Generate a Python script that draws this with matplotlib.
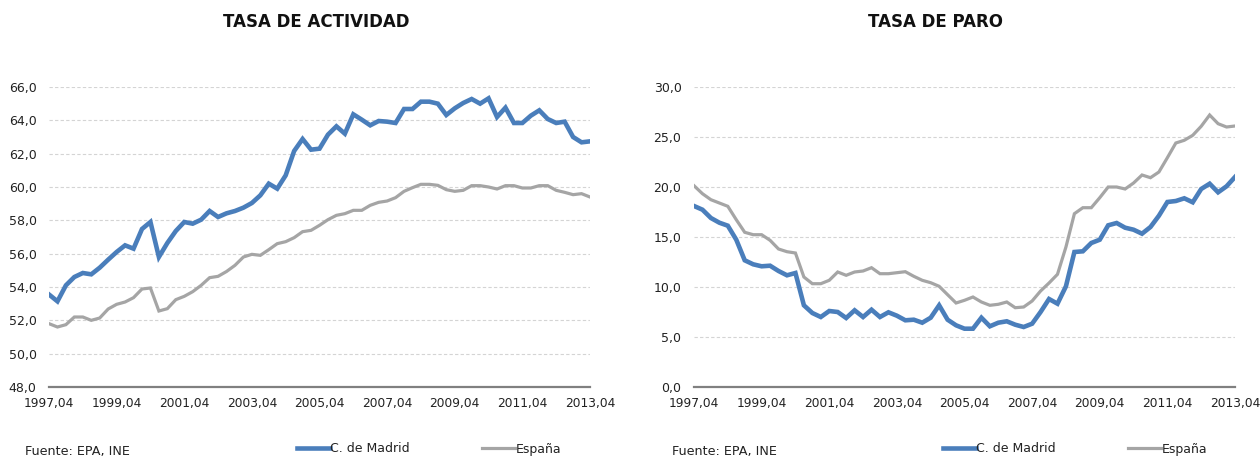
import matplotlib
matplotlib.use("Agg")
import matplotlib.pyplot as plt
from matplotlib.lines import Line2D
import numpy as np

plt.rcParams['font.family'] = ['DejaVu Sans']

# Quarterly series, 1997 Q4 .. 2013 Q4 (65 points)
tick_labels = ["1997,04", "1999,04", "2001,04", "2003,04", "2005,04",
               "2007,04", "2009,04", "2011,04", "2013,04"]

actividad_madrid = [
    53.55, 53.14, 54.1, 54.6, 54.84, 54.76, 55.16, 55.64, 56.1, 56.5,
    56.3, 57.48, 57.9, 55.8, 56.64, 57.36, 57.9, 57.8, 58.04, 58.56,
    58.2, 58.42, 58.56, 58.76, 59.04, 59.5, 60.2, 59.9, 60.7, 62.16,
    62.88, 62.24, 62.3, 63.14, 63.64, 63.2, 64.36, 64.04, 63.7, 63.96,
    63.92, 63.84, 64.68, 64.68, 65.12, 65.12, 65.0, 64.32, 64.72, 65.04,
    65.28, 65.0, 65.32, 64.2, 64.76, 63.84, 63.84, 64.28, 64.6, 64.08,
    63.84, 63.92, 63.0, 62.68, 62.74]

actividad_espana = [
    51.8, 51.6, 51.74, 52.2, 52.2, 52.0, 52.14, 52.68, 52.96, 53.1,
    53.36, 53.88, 53.94, 52.56, 52.7, 53.24, 53.44, 53.72, 54.1, 54.56,
    54.64, 54.93, 55.3, 55.8, 55.96, 55.9, 56.24, 56.6, 56.72, 56.96,
    57.32, 57.4, 57.7, 58.04, 58.3, 58.4, 58.6, 58.6, 58.9, 59.08,
    59.16, 59.36, 59.74, 59.96, 60.16, 60.16, 60.1, 59.84, 59.74, 59.8,
    60.08, 60.08, 60.0, 59.88, 60.08, 60.08, 59.94, 59.94, 60.08, 60.08,
    59.8, 59.68, 59.54, 59.6, 59.4]

paro_madrid = [
    18.1, 17.73, 16.9, 16.43, 16.13, 14.73, 12.67, 12.27, 12.07, 12.13,
    11.6, 11.17, 11.4, 8.17, 7.4, 7.0, 7.6, 7.5, 6.9, 7.67,
    7.0, 7.73, 7.0, 7.47, 7.13, 6.67, 6.73, 6.43, 6.93, 8.17,
    6.73, 6.17, 5.83, 5.83, 6.93, 6.07, 6.43, 6.57, 6.23, 6.0,
    6.33, 7.5, 8.8, 8.33, 10.07, 13.5, 13.57, 14.4, 14.73, 16.17,
    16.4, 15.93, 15.73, 15.33, 16.0, 17.13, 18.5, 18.6, 18.87, 18.47,
    19.8, 20.33, 19.47, 20.07, 21.0]

paro_espana = [
    20.13, 19.33, 18.73, 18.4, 18.07, 16.73, 15.47, 15.23, 15.23, 14.67,
    13.8, 13.53, 13.4, 11.0, 10.33, 10.33, 10.67, 11.5, 11.17, 11.5,
    11.6, 11.93, 11.33, 11.33, 11.43, 11.53, 11.07, 10.67, 10.43, 10.07,
    9.23, 8.4, 8.67, 9.0, 8.5, 8.17, 8.27, 8.5, 7.93, 8.0,
    8.6, 9.6, 10.4, 11.27, 14.0, 17.33, 17.93, 17.93, 18.93, 20.0,
    20.0, 19.8, 20.4, 21.2, 20.93, 21.5, 22.93, 24.4, 24.67, 25.17,
    26.07, 27.2, 26.33, 26.0, 26.1]

BLUE = "#4a7ebb"
GRAY = "#a5a5a5"
W, H = 1260, 457

fig = plt.figure(figsize=(W / 100, H / 100), dpi=100)

def make_axes(left, right, top, bottom):
    return fig.add_axes([left / W, 1 - bottom / H, (right - left) / W, (bottom - top) / H])

def style(ax, madrid, espana, ymin, ymax, step, title, title_x,
          fuente_x, leg_x):
    x = np.arange(len(madrid))
    ax.plot(x, espana, color=GRAY, lw=2.3, solid_joinstyle='miter', zorder=3)
    ax.plot(x, madrid, color=BLUE, lw=3.3, solid_joinstyle='miter', zorder=4)
    ax.set_xlim(0, len(madrid) - 1)
    ax.set_ylim(ymin, ymax)
    yt = np.arange(ymin, ymax + step / 2, step)
    ax.set_yticks(yt)
    ax.set_yticklabels([f"{v:.1f}".replace(".", ",") for v in yt], fontsize=9,
                       color="#222222")
    ax.set_xticks(np.arange(0, len(madrid), 8))
    ax.set_xticklabels(tick_labels, fontsize=8.8, color="#222222")
    ax.tick_params(length=0, pad=7)
    ax.tick_params(axis='y', pad=9)
    for s in ["top", "right", "left"]:
        ax.spines[s].set_visible(False)
    ax.spines["bottom"].set_color("#808080")
    ax.spines["bottom"].set_linewidth(1.6)
    ax.grid(axis='y', color="#d4d4d4", linestyle=(0, (3, 2)), lw=0.8)
    ax.set_axisbelow(True)
    fig.text(title_x / W, 1 - 22 / H, title, ha='center', va='center',
             fontsize=12, fontweight='bold', color="#111111")
    fig.text(fuente_x / W, 1 - 451 / H, "Fuente: EPA, INE", ha='left',
             va='center', fontsize=9.2, color="#222222")
    handles = [Line2D([0], [0], color=BLUE, lw=3.3),
               Line2D([0], [0], color=GRAY, lw=2.3)]
    fig.legend(handles, ["C. de Madrid", "España"], loc='center left',
               bbox_to_anchor=(leg_x / W, 1 - 449 / H), ncol=2, frameon=False,
               fontsize=9, handlelength=2.6, handletextpad=0.05,
               columnspacing=5.8, borderaxespad=0, borderpad=0,
               labelcolor="#222222")

ax1 = make_axes(49, 590, 87, 387)
style(ax1, actividad_madrid, actividad_espana, 48, 66, 2,
      "TASA DE ACTIVIDAD", 316, 25, 297)

ax2 = make_axes(694, 1235, 87, 387)
style(ax2, paro_madrid, paro_espana, 0, 30, 5,
      "TASA DE PARO", 935, 672, 943)

fig.savefig("out.png", dpi=100)
